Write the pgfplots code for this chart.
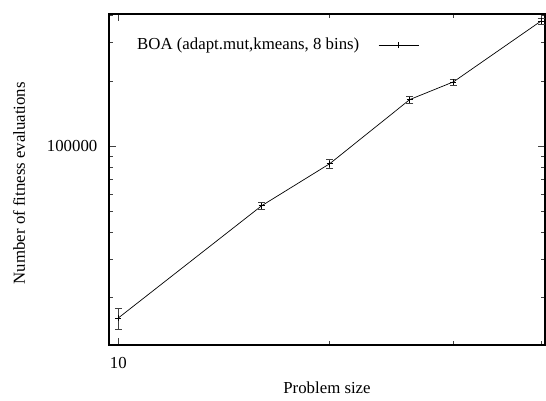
\documentclass[border=0pt]{standalone}
\usepackage{pgfplots}
\pgfplotsset{compat=1.18}
\usepackage{fontspec}
\setmainfont{Liberation Serif}

\begin{document}
\fontsize{16.8bp}{20bp}\selectfont
\begin{tikzpicture}
% page frame around the axis box
\path[use as bounding box] (-109bp,-56bp) rectangle (437bp,345bp);
\begin{axis}[
  at={(0,0)}, anchor=south west,
  scale only axis, width=436bp, height=331bp,
  xmode=log, ymode=log,
  xmin=9.7, xmax=40.5, ymin=12000, ymax=408000,
  xtick={10}, xticklabels={10},
  minor xtick={20,30,40},
  ytick={100000}, yticklabels={100000},
  minor ytick={20000,30000,40000,50000,60000,70000,80000,90000,200000,300000,400000},
  tick align=inside,
  major tick length=7bp, minor tick length=4bp,
  every tick/.style={black!75, line width=0.7bp},
  axis line style={line width=1.1bp},
  xticklabel style={anchor=center, yshift=-17.7bp, inner sep=0pt},
  yticklabel style={anchor=east, xshift=-11.5bp, inner sep=0pt},
  xlabel={Problem size},
  ylabel={Number of fitness evaluations},
  xlabel style={at={(axis description cs:0.5,-0.1299)}, anchor=center, inner sep=0pt},
  ylabel style={at={(axis description cs:-0.2064,0.489)}, anchor=center, inner sep=0pt},
  legend plot pos=right,
  legend style={at={(axis description cs:0.0642,0.906)}, anchor=west,
    draw=none, fill=none, inner sep=0pt, column sep=19bp,
    nodes={inner sep=0pt}},
  legend cell align=left,
  legend image code/.code={
    \draw[black, line width=0.7bp] (0bp,0bp) -- (40bp,0bp);
    \draw[black, line width=0.7bp] (20bp,-3bp) -- (20bp,3bp);
  },
]
\addplot[black, line width=0.7bp, mark=+, mark size=3bp,
  error bars/.cd, y dir=both, y explicit,
  error bar style={black!75, line width=0.7bp},
  error mark options={rotate=90, black!75, mark size=3.5bp, line width=0.7bp}]
  coordinates {
    (10,16000)  +- (0,1800)
    (16,52900)  +- (0,2200)
    (20,82800)  +- (0,3900)
    (26,164000) +- (0,6000)
    (30,198000) +- (0,6300)
    (40,379000) +- (0,12000)
  };
\addlegendentry{BOA (adapt.mut,kmeans, 8 bins)}
\end{axis}
\end{tikzpicture}
\end{document}
